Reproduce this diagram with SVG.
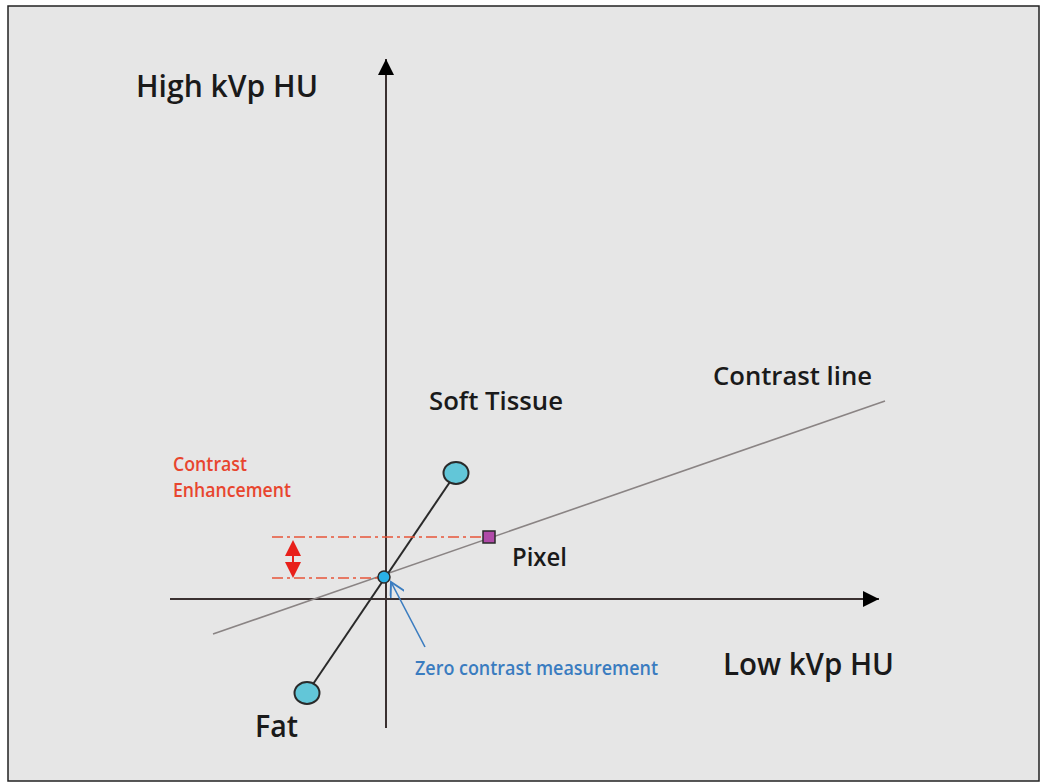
<svg xmlns="http://www.w3.org/2000/svg" width="1040" height="783" viewBox="0 0 1040 783">
<defs>
<style>
.lbl{font-family:"Open Sans","Liberation Sans",Arial,sans-serif;font-weight:600;fill:#1a1a1a}
.big{font-size:31px}
.mid{font-size:26px}
.red{font-family:"Open Sans","Liberation Sans",Arial,sans-serif;font-weight:600;font-size:19px;fill:#e8452e}
.blue{font-family:"Open Sans","Liberation Sans",Arial,sans-serif;font-weight:600;font-size:19px;fill:#3a7cc0}
.axis{stroke:#3a3030;stroke-width:2;fill:none}
.dash{stroke:#e8553a;stroke-width:1.6;stroke-dasharray:11 4 3 4;fill:none}
.blob{fill:#62c6d8;stroke:#2a2a2a;stroke-width:2}
</style>
<marker id="ah" viewBox="0 0 10 10" refX="10" refY="5" markerWidth="16" markerHeight="16" markerUnits="userSpaceOnUse" orient="auto">
<path d="M0,0 L10,5 L0,10 Z" fill="#000"/>
</marker>
<marker id="open" viewBox="0 0 10 10" refX="9" refY="5" markerWidth="16" markerHeight="16" markerUnits="userSpaceOnUse" orient="auto">
<path d="M0,0 L9,5 L0,10" fill="none" stroke="#3a7cc0" stroke-width="1.2"/>
</marker>
</defs>
<rect x="0" y="0" width="1040" height="783" fill="#ffffff"/>
<rect x="8" y="6" width="1031" height="775" fill="#e6e6e6" stroke="#222" stroke-width="1.5"/>
<g id="connectors">
<line class="axis" x1="386" y1="728" x2="386" y2="59" marker-end="url(#ah)"/>
<line class="axis" x1="170" y1="599" x2="879" y2="599" marker-end="url(#ah)"/>
<line x1="213" y1="634" x2="885" y2="401" stroke="#8a8484" stroke-width="1.6"/>
<line x1="307" y1="693" x2="456" y2="473" stroke="#2a2a2a" stroke-width="2"/>
<line class="dash" x1="272" y1="537" x2="484" y2="537"/>
<line class="dash" x1="272" y1="578" x2="378" y2="578"/>
<line x1="425" y1="647" x2="391" y2="582" stroke="#3a7cc0" stroke-width="1.6" marker-end="url(#open)"/>
</g>
<g id="enh-arrow">
<line x1="293" y1="545" x2="293" y2="573" stroke="#e8201a" stroke-width="2"/>
<polygon points="293,540 285,556 301,556" fill="#e8201a"/>
<polygon points="293,578 285,562 301,562" fill="#e8201a"/>
</g>
<g id="soft-tissue"><ellipse class="blob" cx="456" cy="473" rx="12.5" ry="11"/></g>
<g id="fat"><ellipse class="blob" cx="307" cy="693" rx="12.5" ry="11"/></g>
<g id="zero"><circle cx="384" cy="577" r="6" fill="#29b0e6" stroke="#2a2a2a" stroke-width="1.5"/></g>
<g id="pixel"><rect x="483" y="531" width="12" height="12" fill="#b04aa8" stroke="#2a2a2a" stroke-width="1.5"/></g>
<g id="labels">
<text class="lbl big" x="136" y="97" textLength="182" lengthAdjust="spacingAndGlyphs">High kVp HU</text>
<text class="lbl big" x="723" y="675" textLength="171" lengthAdjust="spacingAndGlyphs">Low kVp HU</text>
<text class="lbl big" x="255" y="737" textLength="43" lengthAdjust="spacingAndGlyphs">Fat</text>
<text class="lbl mid" x="429" y="410" textLength="134" lengthAdjust="spacingAndGlyphs">Soft Tissue</text>
<text class="lbl mid" x="713" y="385" textLength="159" lengthAdjust="spacingAndGlyphs">Contrast line</text>
<text class="lbl mid" x="512" y="566" textLength="55" lengthAdjust="spacingAndGlyphs">Pixel</text>
<text class="red" x="173" y="471" textLength="74" lengthAdjust="spacingAndGlyphs">Contrast</text>
<text class="red" x="173" y="497" textLength="118" lengthAdjust="spacingAndGlyphs">Enhancement</text>
<text class="blue" x="415" y="675" textLength="243" lengthAdjust="spacingAndGlyphs">Zero contrast measurement</text>
</g>
</svg>
